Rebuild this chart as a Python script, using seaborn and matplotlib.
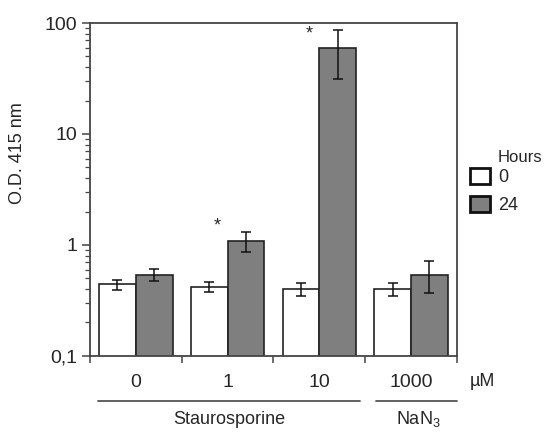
#O.D. 415 nm after staurosporine / NaN3 treatment, log scale bars
import pandas as pd
import matplotlib.pyplot as plt
import matplotlib.transforms as mtransforms
from matplotlib.patches import Patch
from matplotlib.ticker import LogLocator, FixedLocator, NullFormatter
import seaborn as sns

doses = ["0", "1", "10", "1000"]
hours = ["0", "24"]
od_0h = [0.44, 0.42, 0.40, 0.40]
od_24h = [0.54, 1.09, 59.0, 0.54]
err_0h = [0.045, 0.045, 0.055, 0.05]
err_24h = [0.07, 0.23, 28.0, 0.175]
significant = [False, True, True, False]

df = pd.DataFrame({
    "Dose": doses * 2,
    "Hours": [hours[0]] * 4 + [hours[1]] * 4,
    "OD": od_0h + od_24h,
    "err": err_0h + err_24h,
})

sns.set_style("ticks")
plt.rcParams["font.family"] = ["Liberation Sans", "DejaVu Sans"]
plt.rcParams["mathtext.default"] = "regular"

fig = plt.figure(figsize=(5.45, 4.34), dpi=100)
ax = fig.add_axes([0.165, 0.18, 0.6735, 0.767])

palette = {"0": "white", "24": "#7f7f7f"}
sns.barplot(
    data=df, x="Dose", y="OD", hue="Hours", order=doses, hue_order=hours,
    palette=palette, edgecolor="#222222", linewidth=1.2, errorbar=None,
    legend=False, ax=ax
)

# error bars on bar centres
bars = [p for p in ax.patches if p.get_height() > 0]
for bar, (_, row) in zip(bars, df.iterrows()):
    cx = bar.get_x() + bar.get_width() / 2
    ax.errorbar(cx, row["OD"], yerr=row["err"], color="#111111",
                capsize=3.5, elinewidth=1.1, capthick=1.1, zorder=5)

ax.set_yscale("log")
ax.set_ylim(0.1, 100)
ax.set_xlim(-0.5, 3.5)
ax.set_yticks([0.1, 1, 10, 100])
ax.set_yticklabels(["0,1", "1", "10", "100"])
ax.yaxis.set_minor_locator(LogLocator(base=10, subs=range(2, 10)))
ax.yaxis.set_minor_formatter(NullFormatter())
ax.tick_params(axis="y", which="major", length=6, width=1.1, color="#444444",
               labelsize=14, pad=3)
ax.tick_params(axis="y", which="minor", length=3.5, width=0.9, color="#444444")

ax.set_xticks(range(4))
ax.set_xticklabels(doses)
ax.xaxis.set_minor_locator(FixedLocator([-0.5, 0.5, 1.5, 2.5, 3.5]))
ax.tick_params(axis="x", which="major", length=0, labelsize=14, pad=13)
ax.tick_params(axis="x", which="minor", length=5, width=1.1, color="#444444")
ax.set_xlabel("")

ax.set_ylabel("O.D. 415 nm", fontsize=13)
ax.yaxis.set_label_coords(-0.175, 0.61)

for s in ax.spines.values():
    s.set_color("#444444")
    s.set_linewidth(1.3)

# significance stars
for i, sig in enumerate(significant):
    if sig:
        ax.text(i - 0.11, od_24h[i] * 1.35, "*", ha="center", va="center",
                fontsize=13)

# group annotations under the x axis
trans = mtransforms.blended_transform_factory(ax.transData, ax.transAxes)
ax.plot([-0.41, 2.44], [-0.135, -0.135], color="#555555", lw=1.3,
        transform=trans, clip_on=False)
ax.plot([2.62, 3.5], [-0.135, -0.135], color="#555555", lw=1.3,
        transform=trans, clip_on=False)
ax.text(1.02, -0.19, "Staurosporine", transform=trans, ha="center",
        va="center", fontsize=13)
ax.text(3.08, -0.19, "NaN$_3$", transform=trans, ha="center",
        va="center", fontsize=13)
ax.text(3.78, -0.078, "µM", transform=trans, ha="center", va="center",
        fontsize=13)

# legend
handles = [Patch(facecolor=palette[h], edgecolor="#111111", linewidth=2)
           for h in hours]
fig.legend(handles, hours, loc="upper left", bbox_to_anchor=(0.862, 0.612),
           frameon=False, fontsize=13, handlelength=1.1, handleheight=0.95,
           handletextpad=0.45, labelspacing=0.55, borderpad=0,
           borderaxespad=0)
fig.text(0.913, 0.638, "Hours", fontsize=12, ha="left", va="center")

fig.savefig("out.png", dpi=100)
